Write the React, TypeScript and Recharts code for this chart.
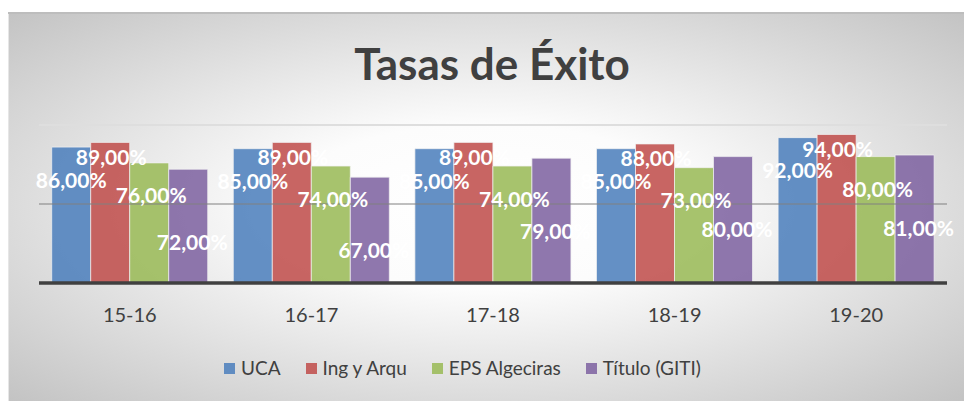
import React from 'react';
import { BarChart, Bar, XAxis, YAxis, ReferenceLine, LabelList } from 'recharts';

const courses = ['15-16', '16-17', '17-18', '18-19', '19-20'];
const uca = [86, 85, 85, 85, 92];
const ingArqu = [89, 89, 89, 88, 94];
const epsAlgeciras = [76, 74, 74, 73, 80];
const tituloGiti = [72, 67, 79, 80, 81];
const gridLines = [50, 100];

const FONT = 'Lato, "Open Sans", sans-serif';
const TEXT = '#404040';

// one entry per series: label nudges approximate the hand-placed labels of the original
const series = [
  { key: 'uca', name: 'UCA', values: uca, color: '#4f81bd', dx: 0, dy: 32 },
  { key: 'ing', name: 'Ing y Arqu', values: ingArqu, color: '#c0504d', dx: 1, dy: 14 },
  { key: 'eps', name: 'EPS Algeciras', values: epsAlgeciras, color: '#9bbb59', dx: 2, dy: 32 },
  { key: 'giti', name: 'Título (GITI)', values: tituloGiti, color: '#8064a2', dx: 4, dy: 72 },
];

const data = courses.map((course, i) => {
  const row: any = { course };
  series.forEach((s) => (row[s.key] = s.values[i]));
  return row;
});

const fmt = (v: number) => v.toFixed(2).replace('.', ',') + '%';

const makeLabel = (dx: number, dy: number) => (props: any) => {
  const { x, y, width, value } = props;
  return (
    <text
      x={Number(x) + Number(width) / 2 + dx}
      y={Number(y) + dy}
      textAnchor="middle"
      dominantBaseline="central"
      fill="#ffffff"
      fontFamily={FONT}
      fontWeight={700}
      fontSize={21}
    >
      {fmt(value)}
    </text>
  );
};

const CourseTick = (props: any) => {
  const { x, y, payload } = props;
  return (
    <text x={x} y={y + 39} textAnchor="middle" fill={TEXT} fontFamily={FONT} fontSize={20}>
      {payload.value}
    </text>
  );
};

export default function App() {
  return (
    <div
      style={{
        position: 'absolute',
        left: 8,
        top: 12,
        width: 956,
        height: 389,
        background:
          'radial-gradient(ellipse farthest-corner at 50% 50%, #ffffff 0%, #fcfcfc 30%, #c3c3c3 100%)',
        boxShadow: 'inset 0 2px 0 #bdbdbd, inset 1px 0 0 #e6e6e6',
        fontFamily: FONT,
      }}
    >
      <div
        style={{
          position: 'absolute',
          left: 0,
          width: 968,
          top: 25,
          textAlign: 'center',
          fontSize: 44,
          fontWeight: 700,
          color: TEXT,
          lineHeight: 'normal',
        }}
      >
        Tasas de Éxito
      </div>

      <BarChart
        width={956}
        height={389}
        data={data}
        margin={{ top: 113, right: 17, left: 31, bottom: 88 }}
        barCategoryGap="7%"
        barGap={0}
      >
        <XAxis
          dataKey="course"
          height={30}
          axisLine={{ stroke: TEXT, strokeWidth: 3.5 }}
          tickLine={false}
          tickSize={0}
          tickMargin={0}
          tick={<CourseTick />}
        />
        <YAxis hide domain={[0, 100]} />
        {gridLines.map((v) => (
          <ReferenceLine
            key={v}
            y={v}
            stroke={v === 50 ? '#808080' : '#dedede'}
            strokeWidth={v === 50 ? 1.2 : 2}
          />
        ))}
        {series.map((s) => (
          <Bar
            key={s.key}
            dataKey={s.key}
            name={s.name}
            fill={s.color}
            fillOpacity={0.88}
            stroke="#f2f2f2"
            strokeOpacity={0.7}
            strokeWidth={1}
            isAnimationActive={false}
          >
            <LabelList dataKey={s.key} content={makeLabel(s.dx, s.dy)} />
          </Bar>
        ))}
      </BarChart>

      <div
        style={{
          position: 'absolute',
          left: 216,
          top: 344,
          display: 'flex',
          alignItems: 'center',
          fontSize: 19,
          color: TEXT,
          lineHeight: '24px',
        }}
      >
        {series.map((s) => (
          <div key={s.key} style={{ display: 'flex', alignItems: 'center', marginRight: 25 }}>
            <span
              style={{
                width: 11,
                height: 11,
                background: s.color,
                opacity: 0.88,
                marginRight: 6,
                display: 'inline-block',
              }}
            />
            <span>{s.name}</span>
          </div>
        ))}
      </div>
    </div>
  );
}
